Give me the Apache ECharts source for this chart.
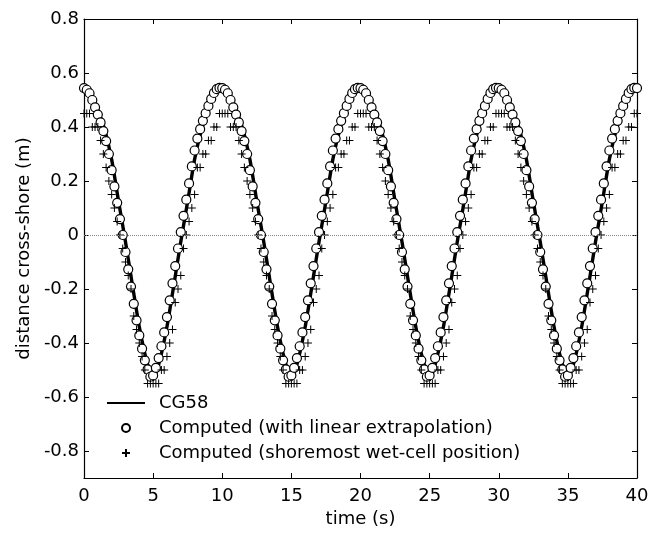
<!DOCTYPE html>
<html>
<head>
<meta charset="utf-8">
<script src="https://cdn.jsdelivr.net/npm/echarts@6/dist/echarts.min.js"></script>
<style>html,body{margin:0;padding:0;background:#fff}#c{width:650px;height:536px}</style>
</head>
<body>
<div id="c"></div>
<script>
// ---- data ----
const xTicks = [0, 5, 10, 15, 20, 25, 30, 35, 40];
const yTicks = [-0.8, -0.6, -0.4, -0.2, 0, 0.2, 0.4, 0.6, 0.8];

// CG58 analytical shoreline, every 0.5 s from t = 0 to 40
const lineStep = 0.5;
const cg58 = [
  0.545,0.525,0.462,0.39,0.28,0.125,-0.025,-0.185,-0.34,-0.46,-0.535,-0.46,-0.34,-0.185,-0.025,0.125,0.28,0.39,0.462,0.525,
  0.545,0.525,0.462,0.39,0.28,0.125,-0.025,-0.185,-0.34,-0.46,-0.535,-0.46,-0.34,-0.185,-0.025,0.125,0.28,0.39,0.462,0.525,
  0.545,0.525,0.462,0.39,0.28,0.125,-0.025,-0.185,-0.34,-0.46,-0.535,-0.46,-0.34,-0.185,-0.025,0.125,0.28,0.39,0.462,0.525,
  0.545,0.525,0.462,0.39,0.28,0.125,-0.025,-0.185,-0.34,-0.46,-0.535,-0.46,-0.34,-0.185,-0.025,0.125,0.28,0.39,0.462,0.525,
  0.545
];

// computed points, every 0.2 s from t = 0 to 40
const ptStep = 0.2;
const linearExtrap = [
  0.544,0.538,0.525,0.50,0.473,0.446,0.417,0.385,0.348,0.30,0.24,0.18,0.119,0.059,0.0,-0.063,-0.127,-0.191,-0.255,-0.316,
  -0.372,-0.421,-0.464,-0.498,-0.525,-0.52,-0.492,-0.456,-0.412,-0.361,-0.304,-0.242,-0.179,-0.115,-0.05,0.011,0.071,0.131,0.191,0.254,
  0.313,0.357,0.392,0.423,0.451,0.478,0.504,0.526,0.54,0.545,
  0.544,0.538,0.525,0.50,0.473,0.446,0.417,0.385,0.348,0.30,0.24,0.18,0.119,0.059,0.0,-0.063,-0.127,-0.191,-0.255,-0.316,
  -0.372,-0.421,-0.464,-0.498,-0.525,-0.52,-0.492,-0.456,-0.412,-0.361,-0.304,-0.242,-0.179,-0.115,-0.05,0.011,0.071,0.131,0.191,0.254,
  0.313,0.357,0.392,0.423,0.451,0.478,0.504,0.526,0.54,0.545,
  0.544,0.538,0.525,0.50,0.473,0.446,0.417,0.385,0.348,0.30,0.24,0.18,0.119,0.059,0.0,-0.063,-0.127,-0.191,-0.255,-0.316,
  -0.372,-0.421,-0.464,-0.498,-0.525,-0.52,-0.492,-0.456,-0.412,-0.361,-0.304,-0.242,-0.179,-0.115,-0.05,0.011,0.071,0.131,0.191,0.254,
  0.313,0.357,0.392,0.423,0.451,0.478,0.504,0.526,0.54,0.545,
  0.544,0.538,0.525,0.50,0.473,0.446,0.417,0.385,0.348,0.30,0.24,0.18,0.119,0.059,0.0,-0.063,-0.127,-0.191,-0.255,-0.316,
  -0.372,-0.421,-0.464,-0.498,-0.525,-0.52,-0.492,-0.456,-0.412,-0.361,-0.304,-0.242,-0.179,-0.115,-0.05,0.011,0.071,0.131,0.191,0.254,
  0.313,0.357,0.392,0.423,0.451,0.478,0.504,0.526,0.54,0.545,
  0.544
];
const wetCell = [
  0.45,0.45,0.45,0.40,0.40,0.40,0.35,0.30,0.25,0.20,0.15,0.10,0.05,0.0,-0.05,-0.10,-0.15,-0.20,-0.30,-0.35,
  -0.40,-0.45,-0.50,-0.55,-0.55,-0.55,-0.55,-0.55,-0.50,-0.50,-0.45,-0.40,-0.35,-0.25,-0.20,-0.15,-0.05,0.0,0.05,0.10,
  0.15,0.25,0.25,0.30,0.30,0.35,0.35,0.40,0.40,0.45,
  0.45,0.45,0.45,0.40,0.40,0.40,0.35,0.30,0.25,0.20,0.15,0.10,0.05,0.0,-0.05,-0.10,-0.15,-0.20,-0.30,-0.35,
  -0.40,-0.45,-0.50,-0.55,-0.55,-0.55,-0.55,-0.55,-0.50,-0.50,-0.45,-0.40,-0.35,-0.25,-0.20,-0.15,-0.05,0.0,0.05,0.10,
  0.15,0.25,0.25,0.30,0.30,0.35,0.35,0.40,0.40,0.45,
  0.45,0.45,0.45,0.40,0.40,0.40,0.35,0.30,0.25,0.20,0.15,0.10,0.05,0.0,-0.05,-0.10,-0.15,-0.20,-0.30,-0.35,
  -0.40,-0.45,-0.50,-0.55,-0.55,-0.55,-0.55,-0.55,-0.50,-0.50,-0.45,-0.40,-0.35,-0.25,-0.20,-0.15,-0.05,0.0,0.05,0.10,
  0.15,0.25,0.25,0.30,0.30,0.35,0.35,0.40,0.40,0.45,
  0.45,0.45,0.45,0.40,0.40,0.40,0.35,0.30,0.25,0.20,0.15,0.10,0.05,0.0,-0.05,-0.10,-0.15,-0.20,-0.30,-0.35,
  -0.40,-0.45,-0.50,-0.55,-0.55,-0.55,-0.55,-0.55,-0.50,-0.50,-0.45,-0.40,-0.35,-0.25,-0.20,-0.15,-0.05,0.0,0.05,0.10,
  0.15,0.25,0.25,0.30,0.30,0.35,0.35,0.40,0.40,0.45,
  0.45
];
const names = ['CG58', 'Computed (with linear extrapolation)', 'Computed (shoremost wet-cell position)'];

// ---- chart ----
const pair = (arr, step) => arr.map((v, i) => [+(i * step).toFixed(2), v]);
const FONT = 'DejaVu Sans';
const axisCommon = {
  axisLine: { show: true, onZero: false, lineStyle: { color: '#000', width: 1.2 } },
  splitLine: { show: false },
};
const chart = echarts.init(document.getElementById('c'), null, { renderer: 'canvas' });
chart.setOption({
  animation: false,
  backgroundColor: '#fff',
  textStyle: { fontFamily: FONT },
  grid: { left: 84, right: 13, top: 19, bottom: 58, outerBoundsMode: 'none' },
  xAxis: [
    Object.assign({
      type: 'value', min: 0, max: 40, interval: 5, position: 'bottom',
      axisTick: { show: true, inside: true, length: 5, lineStyle: { color: '#000' } },
      axisLabel: { color: '#000', fontSize: 18, fontFamily: FONT, margin: 9, customValues: xTicks },
      name: 'time (s)', nameLocation: 'middle', nameGap: 31,
      nameTextStyle: { color: '#000', fontSize: 18, fontFamily: FONT }
    }, axisCommon),
    Object.assign({
      type: 'value', min: 0, max: 40, interval: 5, position: 'top',
      axisTick: { show: true, inside: true, length: 5, lineStyle: { color: '#000' } },
      axisLabel: { show: false }
    }, axisCommon)
  ],
  yAxis: [
    Object.assign({
      type: 'value', min: -0.9, max: 0.8, position: 'left',
      axisTick: { show: true, inside: true, length: 5, customValues: yTicks, lineStyle: { color: '#000' } },
      axisLabel: { color: '#000', fontSize: 18, fontFamily: FONT, margin: 5, customValues: yTicks },
      name: 'distance cross-shore (m)', nameLocation: 'middle', nameGap: 51, nameRotate: 90,
      nameTextStyle: { color: '#000', fontSize: 18, fontFamily: FONT }
    }, axisCommon),
    Object.assign({
      type: 'value', min: -0.9, max: 0.8, position: 'right',
      axisTick: { show: true, inside: true, length: 5, customValues: yTicks, lineStyle: { color: '#000' } },
      axisLabel: { show: false }
    }, axisCommon)
  ],
  legend: {
    orient: 'vertical', left: 106, top: 393, padding: 0,
    itemWidth: 38, itemHeight: 8, itemGap: 5,
    textStyle: { color: '#000', fontSize: 18, fontFamily: FONT, lineHeight: 20, padding: [0, 0, 0, 9] },
    data: [
      { name: names[0], itemStyle: { opacity: 0 } },
      { name: names[1] },
      { name: names[2] }
    ]
  },
  series: [
    {
      name: names[0], type: 'line', xAxisIndex: 0, yAxisIndex: 0,
      data: pair(cg58, lineStep), symbol: 'none', smooth: 0.2,
      itemStyle: { color: '#000' },
      lineStyle: { color: '#000', width: 3.4 }, z: 2,
      markLine: {
        silent: true, symbol: 'none', label: { show: false },
        lineStyle: { color: '#888', width: 1, type: 'dotted' },
        data: [{ yAxis: 0 }]
      }
    },
    {
      name: names[1], type: 'scatter', xAxisIndex: 0, yAxisIndex: 0,
      data: pair(linearExtrap, ptStep), symbol: 'circle', symbolSize: 9,
      itemStyle: { color: '#fff', borderColor: '#000', borderWidth: 1.2, opacity: 1 }, z: 3
    },
    {
      name: names[2], type: 'scatter', xAxisIndex: 0, yAxisIndex: 0,
      data: pair(wetCell, ptStep), symbol: 'path://M5,0L5,10M0,5L10,5', symbolSize: 8,
      itemStyle: { color: 'rgba(0,0,0,0)', borderColor: '#000', borderWidth: 1, opacity: 1 }, z: 4
    }
  ]
});
</script>
</body>
</html>
